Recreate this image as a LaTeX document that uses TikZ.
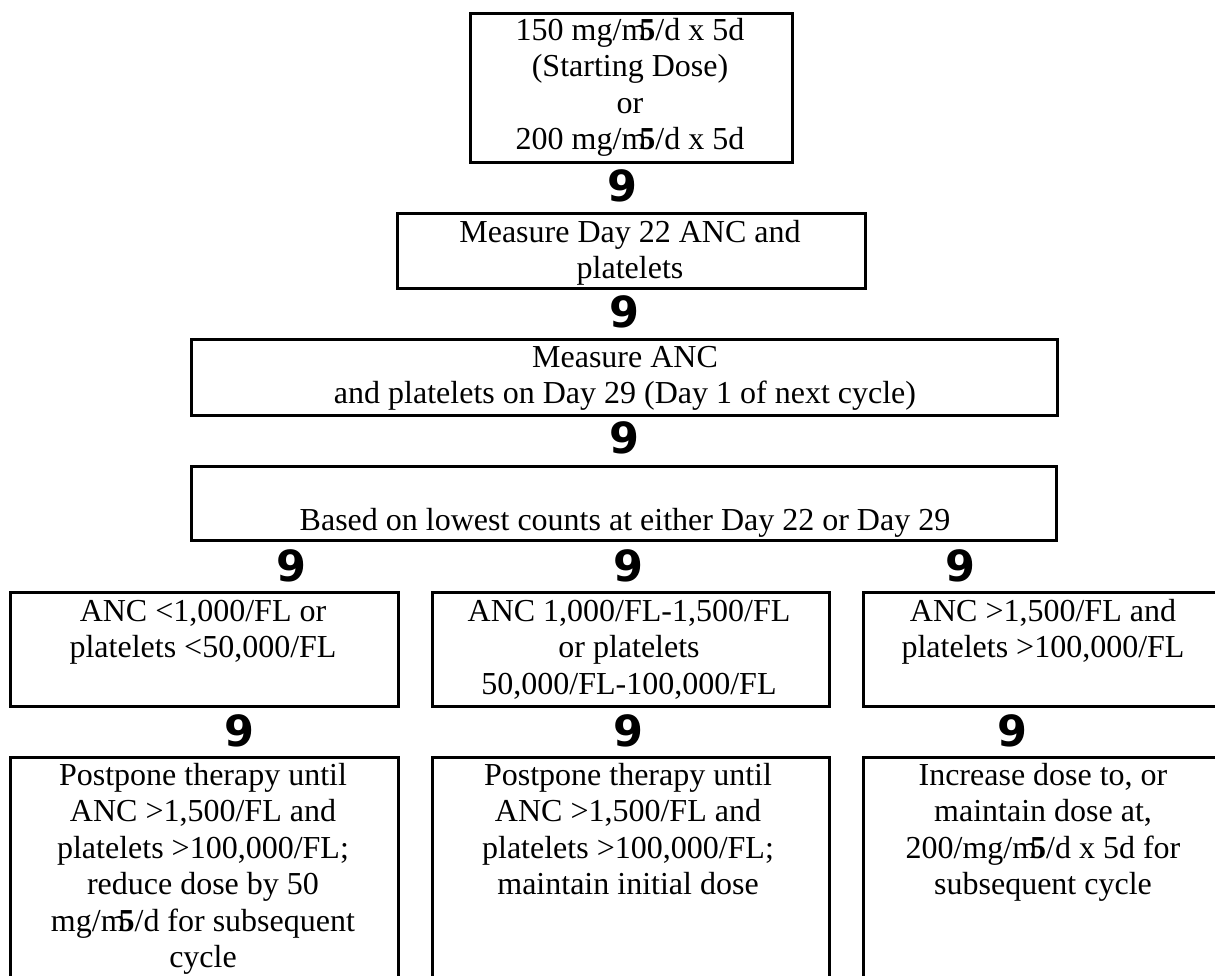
\documentclass[tikz,border=0pt]{standalone}
\usepackage{fontspec}
\setmainfont{Liberation Serif}
\newfontfamily\arrfont{DejaVu Sans}
\newcommand\msq{m\kern-0.22em\textbf{5}}
\tikzset{
  box/.style={draw=black, line width=1.3pt, rectangle, inner sep=0pt, anchor=north west},
  txt/.style={anchor=base, inner sep=0pt, font=\fontsize{16}{18.25}\selectfont},
  arr/.style={anchor=center, inner sep=0pt, font=\arrfont\bfseries\fontsize{21.5}{24}\selectfont},
}
\newcommand\lines[1]{\begin{tabular}[t]{@{}c@{}}#1\end{tabular}}
\begin{document}
\begin{tikzpicture}[x=0.5pt, y=-0.5pt]
\useasboundingbox (0,0) rectangle (1215,975);
\clip (0,0) rectangle (1215,975);
% boxes
\node[box, minimum width=161pt, minimum height=74.5pt] (b1) at (469,12) {};
\node[box, minimum width=234pt, minimum height=37.5pt] (b2) at (396,212) {};
\node[box, minimum width=433pt, minimum height=38pt] (b3) at (190,338) {};
\node[box, minimum width=432.5pt, minimum height=37pt] (b4) at (190,465) {};
\node[box, minimum width=194pt, minimum height=57pt] (b5a) at (9,591) {};
\node[box, minimum width=198.5pt, minimum height=57pt] (b5b) at (431,591) {};
\node[box, minimum width=195pt, minimum height=57pt] (b5c) at (862,591) {};
\node[box, minimum width=194pt, minimum height=120pt] (b6a) at (9,756) {};
\node[box, minimum width=198.5pt, minimum height=120pt] (b6b) at (431,756) {};
\node[box, minimum width=195pt, minimum height=120pt] (b6c) at (862,756) {};
% texts
\node[txt] (t1) at (630,40) {\lines{150 mg/\msq/d x 5d\\(Starting Dose)\\or\\200 mg/\msq/d x 5d}};
\node[txt] (t2) at (630,242) {\lines{Measure Day 22 ANC and\\platelets}};
\node[txt] (t3) at (625,367) {\lines{Measure ANC\\and platelets on Day 29 (Day 1 of next cycle)}};
\node[txt] (t4) at (625,530) {Based on lowest counts at either Day 22 or Day 29};
\node[txt] (t5a) at (203,621) {\lines{ANC {<}1,000/FL or\\platelets {<}50,000/FL}};
\node[txt] (t5b) at (629,621) {\lines{ANC 1,000/FL-1,500/FL\\or platelets\\50,000/FL-100,000/FL}};
\node[txt] (t5c) at (1043,621) {\lines{ANC {>}1,500/FL and\\platelets {>}100,000/FL}};
\node[txt] (t6a) at (203,785) {\lines{Postpone therapy until\\ANC {>}1,500/FL and\\platelets {>}100,000/FL;\\reduce dose by 50\\mg/\msq/d for subsequent\\cycle}};
\node[txt] (t6b) at (628,785) {\lines{Postpone therapy until\\ANC {>}1,500/FL and\\platelets {>}100,000/FL;\\maintain initial dose}};
\node[txt] (t6c) at (1043,785) {\lines{Increase dose to, or\\maintain dose at,\\200/mg/\msq/d x 5d for\\subsequent cycle}};
% arrow glyphs
\node[arr] (a1) at (622,186) {9};
\node[arr] (a2) at (624,312) {9};
\node[arr] (a3) at (624,438) {9};
\node[arr] (a4a) at (291,566) {9};
\node[arr] (a4b) at (628,566) {9};
\node[arr] (a4c) at (960,566) {9};
\node[arr] (a5a) at (239,731) {9};
\node[arr] (a5b) at (628,731) {9};
\node[arr] (a5c) at (1012,731) {9};
\end{tikzpicture}
\end{document}
